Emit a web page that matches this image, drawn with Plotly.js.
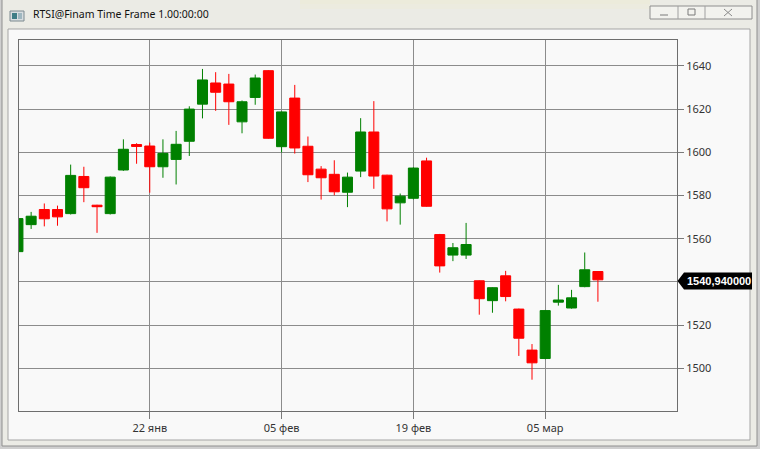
<!DOCTYPE html>
<html>
<head>
<meta charset="utf-8">
<script src="https://cdn.plot.ly/plotly-3.0.1.min.js"></script>
<style>
html,body{margin:0;padding:0;background:#cfcfcf;}
#chart{width:760px;height:449px;}
</style>
</head>
<body>
<div id="chart"></div>
<script>
// ---- data ----
var dates = ['2013-01-08','2013-01-09','2013-01-10','2013-01-11','2013-01-14','2013-01-15','2013-01-16','2013-01-17','2013-01-18','2013-01-21',
 '2013-01-22','2013-01-23','2013-01-24','2013-01-25','2013-01-28','2013-01-29','2013-01-30','2013-01-31','2013-02-01','2013-02-04',
 '2013-02-05','2013-02-06','2013-02-07','2013-02-08','2013-02-11','2013-02-12','2013-02-13','2013-02-14','2013-02-15','2013-02-18',
 '2013-02-19','2013-02-20','2013-02-21','2013-02-22','2013-02-25','2013-02-26','2013-02-27','2013-02-28','2013-03-01','2013-03-04',
 '2013-03-05','2013-03-06','2013-03-07','2013-03-11','2013-03-12'];
var open  = [1554.0,1566.5,1573.5,1573.5,1571.6,1588.8,1575.5,1571.6,1591.8,1603.6,
 1602.9,1593.3,1596.7,1605.1,1622.3,1632.1,1631.6,1614.1,1625.4,1637.8,
 1602.6,1625.1,1602.8,1592.2,1589.8,1581.5,1591.3,1609.4,1589.4,1576.6,
 1578.7,1596.0,1561.9,1552.4,1552.4,1540.5,1531.3,1542.8,1527.4,1508.4,
 1504.5,1530.6,1527.9,1537.8,1544.8];
var high  = [1582.8,1572.4,1576.3,1575.3,1594.3,1593.3,1575.7,1588.8,1606.0,1604.2,
 1604.5,1606.0,1609.9,1621.3,1638.6,1637.1,1636.3,1624.0,1636.0,1638.1,
 1618.9,1631.2,1607.3,1593.6,1596.3,1590.6,1615.8,1623.7,1589.6,1580.9,
 1593.0,1597.5,1562.2,1558.0,1567.3,1540.7,1537.5,1545.1,1527.6,1511.2,
 1527.0,1538.6,1536.3,1553.6,1545.0];
var low   = [1553.5,1564.5,1565.7,1566.0,1571.2,1576.9,1562.7,1571.2,1591.4,1594.7,
 1581.3,1588.2,1585.1,1598.3,1615.7,1619.2,1612.7,1608.8,1622.0,1606.3,
 1599.9,1599.4,1586.2,1578.1,1580.1,1574.6,1588.5,1583.1,1568.0,1566.5,
 1578.2,1574.8,1544.3,1549.6,1550.6,1524.8,1525.7,1531.0,1505.7,1494.7,
 1504.2,1529.0,1527.6,1537.5,1530.8];
var close = [1569.3,1570.4,1569.2,1570.1,1589.3,1583.6,1574.8,1588.5,1601.4,1602.7,
 1593.3,1599.5,1603.7,1620.0,1633.5,1627.8,1623.4,1623.4,1634.4,1606.5,
 1618.7,1602.0,1589.6,1588.2,1581.7,1588.5,1609.4,1589.0,1573.8,1579.7,
 1592.7,1575.0,1547.4,1555.8,1557.3,1532.2,1537.3,1533.2,1513.9,1502.5,
 1526.7,1531.6,1532.6,1545.6,1540.94];
var xTickVals = ['2013-01-22','2013-02-05','2013-02-19','2013-03-05'];
var xTickText = ['22 янв','05 фев','19 фев','05 мар'];
var yTickVals = [1500,1520,1540,1560,1580,1600,1620,1640];
// the 1540 label is hidden behind the last-price marker in the original
var yTickText = ['1500','1520','','1560','1580','1600','1620','1640'];
var windowTitle = 'RTSI@Finam Time Frame 1.00:00:00';

// ---- helpers: pixel -> paper ----
var L = 19, R = 677, T = 40, B = 411;
function X(px){ return (px - L) / (R - L); }
function Y(py){ return (B - py) / (B - T); }
function rect(x0,y0,x1,y1,fill,line,lw,layer){
  return {type:'rect',xref:'paper',yref:'paper',x0:X(x0),x1:X(x1),y0:Y(y0),y1:Y(y1),
    fillcolor:fill,line:{color:line||'rgba(0,0,0,0)',width:lw||0},layer:layer||'below'};
}
function seg(x0,y0,x1,y1,color,w){
  return {type:'line',xref:'paper',yref:'paper',x0:X(x0),x1:X(x1),y0:Y(y0),y1:Y(y1),
    line:{color:color,width:w||1},layer:'above'};
}

var last = close[close.length-1];
var shapes = [
  rect(2,-2,757,446,'#ebebe5','#8f8f8f',1),
  rect(300,-2,650,4,'rgba(238,234,200,0.35)'),
  rect(300,4,650,9,'rgba(238,234,200,0.2)'),
  rect(8,29,750,440,'#f9f9f9','#a5a5a5',1),
  // window buttons
  rect(650,6,752,19,'#f2f2ee','#8e8e8e',1,'above'),
  seg(678,6,678,19,'#a0a0a0',1),
  seg(705,6,705,19,'#a0a0a0',1),
  seg(660,15,668,15,'#7a7a7a',1),
  rect(688,9,695,15,'rgba(0,0,0,0)','#7a7a7a',1,'above'),
  seg(724,9,732,16,'#8a8a8a',1),
  seg(724,16,732,9,'#8a8a8a',1),
  // icon
  rect(10,11,24,21,'#d8dde0','#7d8a90',1,'above'),
  rect(12,13,17,19,'#3f7d86','rgba(0,0,0,0)',0,'above'),
  rect(18,13,22,19,'#9fb7c0','rgba(0,0,0,0)',0,'above'),
  // last price marker
  {type:'path',xref:'paper',yref:'paper',layer:'above',
   path:'M '+X(677.5)+','+Y(281)+' L '+X(684)+','+Y(272.5)+' L '+X(752)+','+Y(272.5)+' L '+X(752)+','+Y(289.5)+' L '+X(684)+','+Y(289.5)+' Z',
   fillcolor:'#000000',line:{width:0}}
];

var annotations = [
  {xref:'paper',yref:'paper',x:X(31),y:Y(14),xanchor:'left',yanchor:'middle',showarrow:false,
   text:windowTitle,font:{family:'Noto Sans',size:10.5,color:'#111111'}},
  {xref:'paper',yref:'paper',x:X(685),y:Y(281),xanchor:'left',yanchor:'middle',showarrow:false,
   text:'<b>'+last.toFixed(6).replace('.',',')+'</b>',font:{family:'Liberation Sans',size:11,color:'#ffffff'}}
];

var trace = {
  type:'candlestick', x:dates, open:open, high:high, low:low, close:close,
  increasing:{line:{color:'#008000',width:1},fillcolor:'#008000'},
  decreasing:{line:{color:'#ff0000',width:1},fillcolor:'#ff0000'},
  hoverinfo:'skip', showlegend:false
};

var layout = {
  width:760, height:449,
  margin:{l:L, r:760-R, t:T, b:449-B, pad:0},
  paper_bgcolor:'#cfcfcf', plot_bgcolor:'rgba(0,0,0,0)',
  boxgap:0.24, boxgroupgap:0,
  font:{family:'Noto Sans',size:11,color:'#333333'},
  showlegend:false,
  xaxis:{type:'category', range:[0.08,50.0], rangeslider:{visible:false},
    tickmode:'array', tickvals:xTickVals, ticktext:xTickText,
    ticks:'outside', ticklen:7, tickcolor:'#7a7a7a', tickwidth:1,
    showgrid:true, gridcolor:'#8c8c8c', gridwidth:1,
    showline:true, linecolor:'#6e6e6e', linewidth:1, mirror:true,
    tickfont:{family:'Noto Sans',size:11,color:'#333333'}, zeroline:false, fixedrange:true},
  yaxis:{side:'right', range:[1480.2,1652.0], tickmode:'array', tickvals:yTickVals, ticktext:yTickText,
    ticks:'outside', ticklen:6, tickcolor:'#7a7a7a', tickwidth:1,
    showgrid:true, gridcolor:'#8c8c8c', gridwidth:1,
    showline:true, linecolor:'#6e6e6e', linewidth:1, mirror:true,
    tickfont:{family:'Noto Sans',size:11,color:'#333333'}, zeroline:false, fixedrange:true},
  shapes:shapes, annotations:annotations
};

Plotly.newPlot('chart',[trace],layout,{staticPlot:true,displayModeBar:false});
</script>
</body>
</html>
